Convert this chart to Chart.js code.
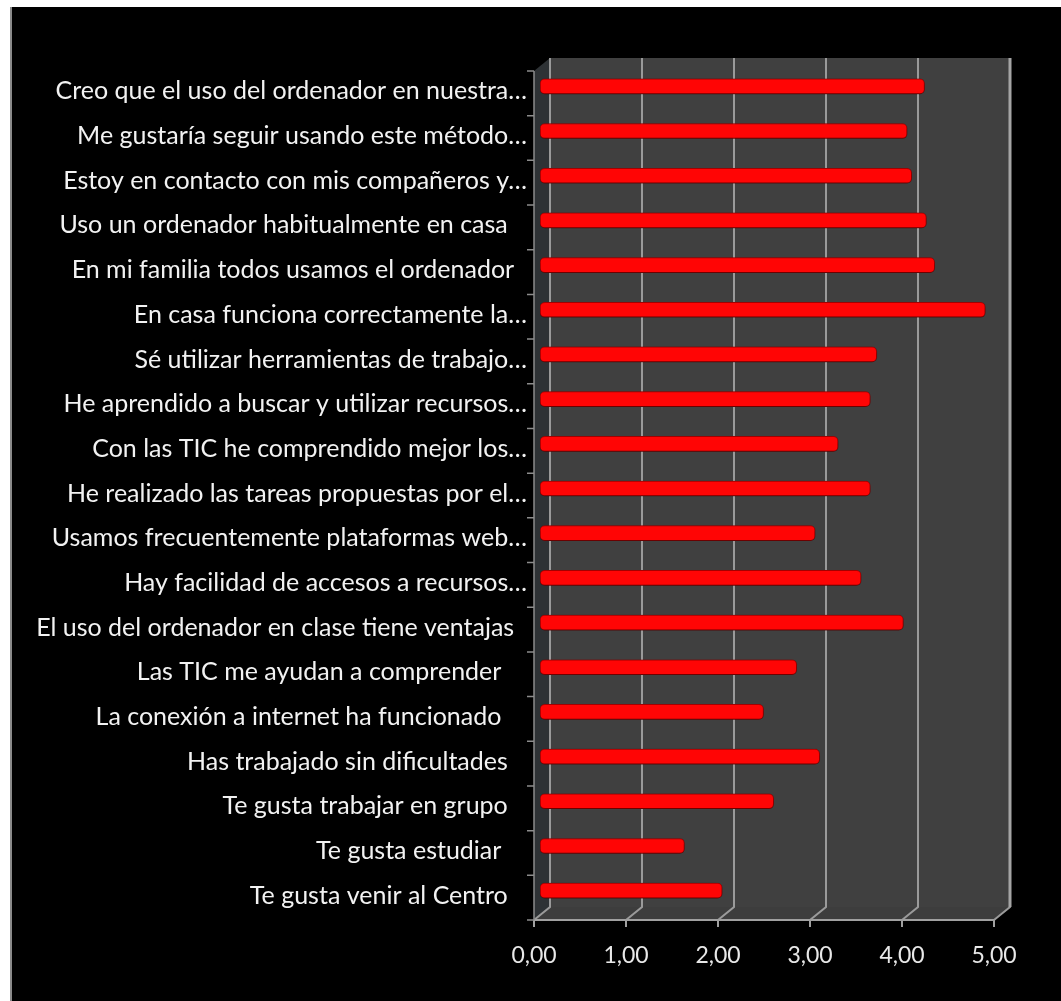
<!DOCTYPE html>
<html>
<head>
<meta charset="utf-8">
<script src="https://cdn.jsdelivr.net/npm/chart.js@4.4.1/dist/chart.umd.min.js"></script>
<style>
  html, body { margin: 0; padding: 0; background: #fff; }
  #frame { position: absolute; left: 10px; top: 7px; right: 0; bottom: 0; background: #000; border-left: 2px solid #8a8a8a; }
  #chart { position: absolute; left: 0; top: 0; }
</style>
</head>
<body>
<div id="frame"></div>
<canvas id="chart" width="1061" height="1001"></canvas>
<script>
const preguntas = [
  'Creo que el uso del ordenador en nuestra…',
  'Me gustaría seguir usando este método…',
  'Estoy en contacto con mis compañeros y…',
  'Uso un ordenador habitualmente en casa   ',
  'En mi familia todos usamos el ordenador  ',
  'En casa funciona correctamente la…',
  'Sé utilizar herramientas de trabajo…',
  'He aprendido a buscar y utilizar recursos…',
  'Con las TIC he comprendido mejor los…',
  'He realizado las tareas propuestas por el…',
  'Usamos frecuentemente plataformas web…',
  'Hay facilidad de accesos a recursos…',
  'El uso del ordenador en clase tiene ventajas  ',
  'Las TIC me ayudan a comprender    ',
  'La conexión a internet ha funcionado    ',
  'Has trabajado sin dificultades   ',
  'Te gusta trabajar en grupo   ',
  'Te gusta estudiar    ',
  'Te gusta venir al Centro   '
];
const medias = [4.18, 3.99, 4.04, 4.20, 4.29, 4.84, 3.66, 3.59, 3.24, 3.59, 2.99, 3.49, 3.95, 2.79, 2.43, 3.04, 2.54, 1.57, 1.98];
const escala = [0, 1, 2, 3, 4, 5];

// oblique offsets of the back wall and the front edge relative to the bars
const BACK = { dx: 10, dy: -6 };
const FRONT = { dx: -6, dy: 7 };

const wall3d = {
  id: 'wall3d',
  beforeDatasetsDraw(chart) {
    const { ctx, chartArea: a, scales: { x } } = chart;
    const x0 = x.getPixelForValue(0);
    const x5 = x.getPixelForValue(5);
    ctx.save();
    // side wall
    ctx.fillStyle = '#2e3235';
    ctx.beginPath();
    ctx.moveTo(x0 + FRONT.dx, a.top + FRONT.dy);
    ctx.lineTo(x0 + BACK.dx, a.top + BACK.dy);
    ctx.lineTo(x0 + BACK.dx, a.bottom + BACK.dy);
    ctx.lineTo(x0 + FRONT.dx, a.bottom + FRONT.dy);
    ctx.closePath();
    ctx.fill();
    // back wall
    ctx.fillStyle = '#404040';
    ctx.fillRect(x0 + BACK.dx, a.top + BACK.dy, x5 - x0, a.bottom - a.top);
    // floor
    ctx.fillStyle = '#3d3d3d';
    ctx.beginPath();
    ctx.moveTo(x0 + BACK.dx, a.bottom + BACK.dy);
    ctx.lineTo(x5 + BACK.dx, a.bottom + BACK.dy);
    ctx.lineTo(x5 + FRONT.dx, a.bottom + FRONT.dy);
    ctx.lineTo(x0 + FRONT.dx, a.bottom + FRONT.dy);
    ctx.closePath();
    ctx.fill();
    // gridlines on wall + floor
    ctx.strokeStyle = '#9a9a9a';
    ctx.lineWidth = 2;
    escala.forEach(v => {
      const px = x.getPixelForValue(v);
      ctx.beginPath();
      ctx.moveTo(px + BACK.dx, a.top + BACK.dy);
      ctx.lineTo(px + BACK.dx, a.bottom + BACK.dy);
      ctx.lineTo(px + FRONT.dx, a.bottom + FRONT.dy);
      ctx.stroke();
    });
    ctx.lineWidth = 3;
    ctx.strokeStyle = '#a5a5a5';
    ctx.beginPath();
    ctx.moveTo(x5 + BACK.dx, a.top + BACK.dy);
    ctx.lineTo(x5 + BACK.dx, a.bottom + BACK.dy);
    ctx.stroke();
    // front edge of floor and tick marks
    ctx.lineWidth = 2;
    ctx.strokeStyle = '#a0a0a0';
    ctx.beginPath();
    ctx.moveTo(x0 + FRONT.dx, a.bottom + FRONT.dy);
    ctx.lineTo(x5 + FRONT.dx, a.bottom + FRONT.dy);
    escala.forEach(v => {
      const px = x.getPixelForValue(v) + FRONT.dx;
      ctx.moveTo(px, a.bottom + FRONT.dy);
      ctx.lineTo(px, a.bottom + FRONT.dy + 7);
    });
    ctx.stroke();
    // category axis on the front edge
    ctx.lineWidth = 1.5;
    ctx.strokeStyle = '#8c8c8c';
    ctx.beginPath();
    ctx.moveTo(x0 + FRONT.dx, a.top + FRONT.dy);
    ctx.lineTo(x0 + FRONT.dx, a.bottom + FRONT.dy);
    const h = (a.bottom - a.top) / preguntas.length;
    for (let i = 0; i <= preguntas.length; i++) {
      const y = a.top + i * h + FRONT.dy;
      ctx.moveTo(x0 + FRONT.dx - 7, y);
      ctx.lineTo(x0 + FRONT.dx, y);
    }
    ctx.stroke();
    ctx.restore();
    // soft shadow under the bars
    ctx.save();
    ctx.shadowColor = 'rgba(0,0,0,0.55)';
    ctx.shadowBlur = 5;
    ctx.shadowOffsetY = 2;
  },
  afterDatasetsDraw(chart) {
    chart.ctx.restore();
  }
};

new Chart(document.getElementById('chart'), {
  type: 'bar',
  data: {
    labels: preguntas,
    datasets: [{
      data: medias,
      backgroundColor: '#ff0505',
      borderColor: '#b30000',
      borderWidth: 1,
      borderRadius: 5,
      borderSkipped: false,
      barThickness: 15
    }]
  },
  options: {
    indexAxis: 'y',
    responsive: false,
    animation: false,
    layout: { padding: { left: 0, top: 64, right: 61, bottom: 0 } },
    plugins: { legend: { display: false }, tooltip: { enabled: false } },
    scales: {
      x: {
        min: 0,
        max: 5,
        border: { display: false },
        grid: { display: false, drawTicks: false },
        afterFit(scale) { scale.height = 88; },
        ticks: {
          stepSize: 1,
          padding: 29,
          labelOffset: -6,
          color: '#e8e8e8',
          font: { family: 'Lato', size: 23 },
          callback: v => v.toFixed(2).replace('.', ',')
        }
      },
      y: {
        border: { display: false },
        grid: { display: false, drawTicks: false },
        afterFit(scale) { scale.width = 540; },
        ticks: {
          padding: 13,
          labelOffset: 5,
          autoSkip: false,
          color: '#f2f2f2',
          font: { family: 'Lato', size: 25 }
        }
      }
    }
  },
  plugins: [wall3d]
});
</script>
</body>
</html>
